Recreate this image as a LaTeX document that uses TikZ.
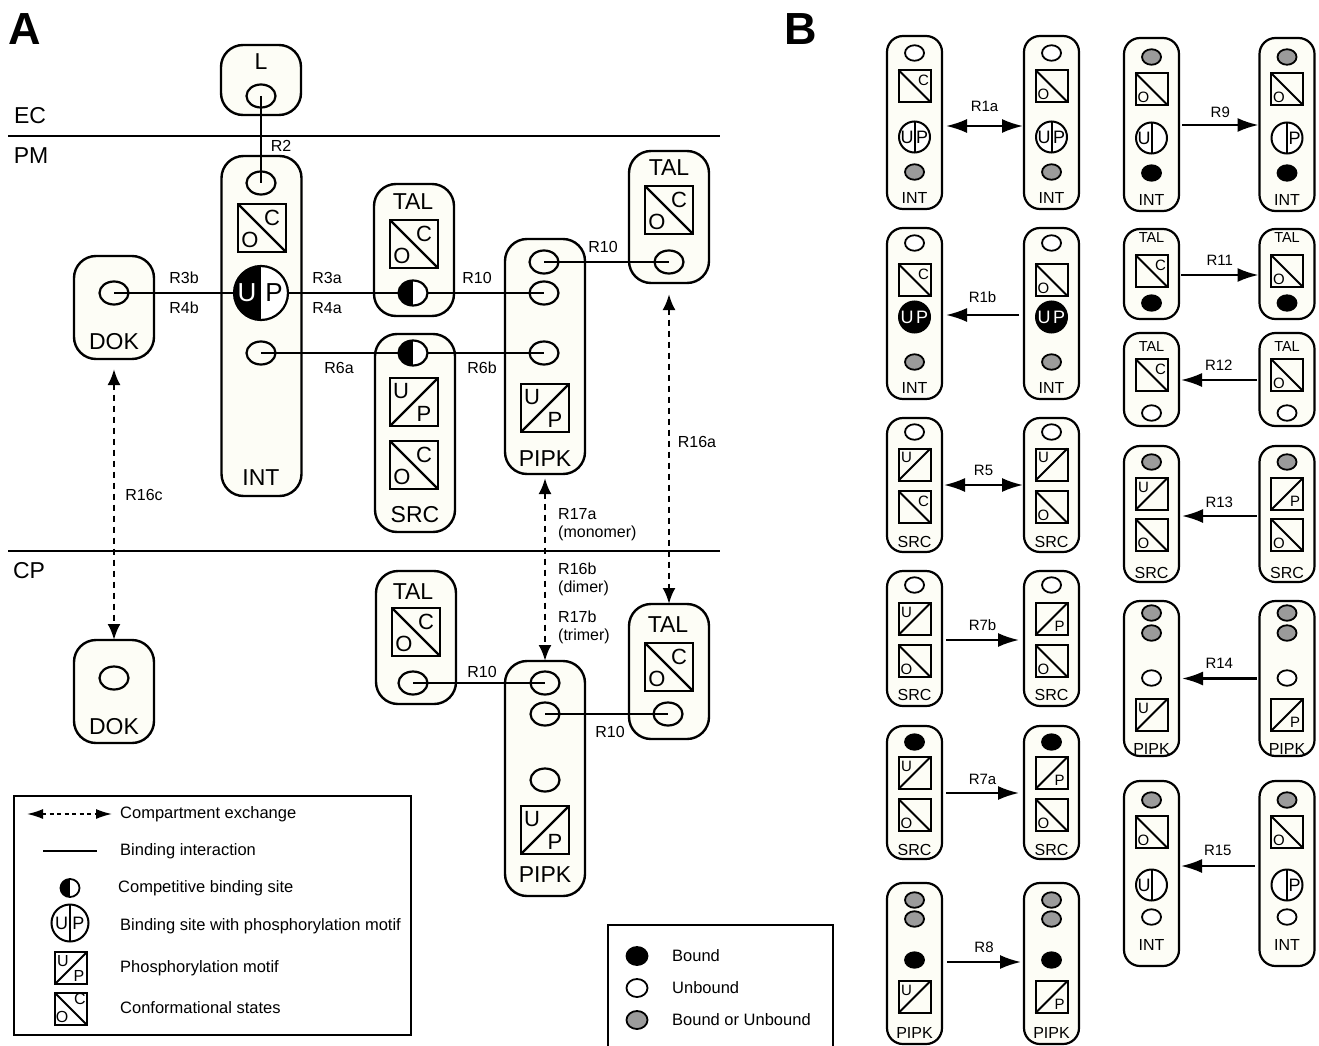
\documentclass[tikz,border=0pt]{standalone}
\usepackage{fontspec}
\setmainfont{Liberation Sans}
\usetikzlibrary{shapes.geometric, arrows.meta, calc}
\definecolor{boxfill}{RGB}{253,253,246}
\definecolor{midgray}{RGB}{155,155,155}
\newcommand{\fs}[1]{\fontsize{#1}{#1}\selectfont}
\tikzset{
 mol/.style={draw, line width=2.4pt, rounded corners=22pt, fill=boxfill, minimum width=80pt, inner sep=0, outer sep=0},
 bmol/.style={draw, line width=2.2pt, rounded corners=16pt, fill=boxfill, minimum width=55pt, inner sep=0, outer sep=0},
 site/.style={draw, ellipse, line width=2.2pt, minimum width=29pt, minimum height=23pt, inner sep=0, outer sep=0},
 comp/.style={draw, ellipse, line width=2.2pt, fill=white, inner sep=0, outer sep=0, minimum width=29pt, minimum height=25pt,
   path picture={\fill[black] (path picture bounding box.south west) rectangle (path picture bounding box.north);}},
 upA/.style={draw, circle, line width=2.2pt, minimum size=54pt, fill=white, inner sep=0, outer sep=0,
   path picture={\fill[black] (path picture bounding box.south west) rectangle (path picture bounding box.north);}},
 bsite/.style={draw, ellipse, line width=1.8pt, minimum width=19pt, minimum height=15.5pt, inner sep=0},
 unb/.style={bsite, fill=white},
 bnd/.style={bsite, fill=black},
 eith/.style={bsite, fill=midgray},
 sqA/.style={draw, rectangle, line width=2.2pt, minimum size=48pt, inner sep=0, outer sep=0},
 sqB/.style={draw, rectangle, line width=2pt, minimum size=32pt, inner sep=0, outer sep=0},
 diagA/.style={line width=2.2pt},
 diagB/.style={line width=2pt},
 cB/.style={draw, circle, line width=2pt, minimum size=31pt, fill=white, inner sep=0,
   path picture={\draw[line width=2pt] (path picture bounding box.north) -- (path picture bounding box.south);}},
 cBk/.style={draw, circle, line width=2pt, minimum size=31pt, fill=black, inner sep=0},
 letA/.style={font=\fs{22}, inner sep=0},
 letB/.style={font=\fs{15}, inner sep=0},
 letC/.style={font=\fs{18}, inner sep=0},
 pname/.style={font=\fs{23}, inner sep=0},
 bname/.style={font=\fs{16}, inner sep=0},
 rlbl/.style={font=\fs{16}, inner sep=0},
 blbl/.style={font=\fs{15}, inner sep=0},
 lgt/.style={font=\fs{16.5}, inner sep=0, anchor=west},
 bind/.style={line width=2.2pt},
 memb/.style={line width=2.4pt},
 xch/.style={line width=2.6pt, dash pattern=on 6pt off 5pt, {Latex[length=16pt,width=13pt]}-{Latex[length=16pt,width=13pt]}},
 xchs/.style={line width=1.6pt, dash pattern=on 4pt off 3.5pt, {Latex[length=16pt,width=10pt]}-{Latex[length=16pt,width=10pt]}},
 rarr/.style={line width=2.2pt, -{Latex[length=21pt,width=14pt]}},
 darr/.style={line width=2.2pt, {Latex[length=21pt,width=14pt]}-{Latex[length=21pt,width=14pt]}},
}
% A-size squares
\newcommand{\myCoA}[3]{\node[sqA] (#1) at (#2,#3) {};
 \draw[diagA] (#1.north west) -- (#1.south east);
 \node[letA] (#1C) at ([shift={(10,-10)}]#1.center) {C};
 \node[letA] (#1O) at ([shift={(-12,12)}]#1.center) {O};}
\newcommand{\myUpA}[3]{\node[sqA] (#1) at (#2,#3) {};
 \draw[diagA] (#1.south west) -- (#1.north east);
 \node[letA] (#1U) at ([shift={(-13,-11)}]#1.center) {U};
 \node[letA] (#1P) at ([shift={(10,12)}]#1.center) {P};}
% B-size squares
\newcommand{\mySqC}[3]{\node[sqB] (#1) at (#2,#3) {};
 \draw[diagB] (#1.north west) -- (#1.south east);
 \node[letB] (#1L) at ([shift={(9,-6)}]#1.center) {C};}
\newcommand{\mySqO}[3]{\node[sqB] (#1) at (#2,#3) {};
 \draw[diagB] (#1.north west) -- (#1.south east);
 \node[letB] (#1L) at ([shift={(-8,8)}]#1.center) {O};}
\newcommand{\mySqU}[3]{\node[sqB] (#1) at (#2,#3) {};
 \draw[diagB] (#1.south west) -- (#1.north east);
 \node[letB] (#1L) at ([shift={(-8,-7)}]#1.center) {U};}
\newcommand{\mySqP}[3]{\node[sqB] (#1) at (#2,#3) {};
 \draw[diagB] (#1.south west) -- (#1.north east);
 \node[letB] (#1L) at ([shift={(8,7)}]#1.center) {P};}
% B-size circle: name x y left right
\newcommand{\myCirc}[5]{\node[cB] (#1) at (#2,#3) {};
 \node[letC] (#1U) at ([shift={(-7.5,0)}]#1.center) {#4};
 \node[letC] (#1P) at ([shift={(7.5,0)}]#1.center) {#5};}
\newcommand{\myCircK}[3]{\node[cBk] (#1) at (#2,#3) {};
 \node[letC, text=white] (#1U) at ([shift={(-7.5,0)}]#1.center) {U};
 \node[letC, text=white] (#1P) at ([shift={(7.5,0)}]#1.center) {P};}

\begin{document}
\begin{tikzpicture}[x=1pt,y=-1pt]
\useasboundingbox (0,0) rectangle (1319,1046);

% panel letters
\node[font=\fs{45}\bfseries, inner sep=0] (labA) at (25,29) {A};
\node[font=\fs{45}\bfseries, inner sep=0] (labB) at (801,29) {B};

% membranes
\coordinate (ec0) at (8,136); \coordinate (ec1) at (720,136);
\draw[memb] (ec0) -- (ec1);
\coordinate (cp0) at (8,551); \coordinate (cp1) at (720,551);
\draw[memb] (cp0) -- (cp1);
\node[pname] (tEC) at (30,116) {EC};
\node[pname] (tPM) at (31,156) {PM};
\node[pname] (tCP) at (29,571) {CP};

% L
\node[mol, minimum height=70pt] (L) at (261,80) {};
\node[pname] (Lt) at (261,62) {L};
\node[site] (Ls) at (261,96) {};

% INT
\node[mol, minimum height=340pt] (INT) at (261.5,326) {};
\node[site] (INTs1) at (261,183) {};
\myCoA{INTco}{262}{228}
\node[upA] (INTup) at (261,293) {};
\node[letA, font=\fs{26}, text=white] (INTu) at (247,293) {U};
\node[letA, font=\fs{26}] (INTp) at (274,293) {P};
\node[site] (INTs2) at (261,353) {};
\node[pname] (INTt) at (261,478) {INT};

% DOK
\node[mol, minimum height=103pt] (DOK1) at (114,307.5) {};
\node[site] (DOK1s) at (114,293) {};
\node[pname] (DOK1t) at (114,342) {DOK};
\node[mol, minimum height=103pt] (DOK2) at (114,691.5) {};
\node[site] (DOK2s) at (114,678) {};
\node[pname] (DOK2t) at (114,727) {DOK};

% TAL1
\node[mol, minimum height=132pt] (TAL1) at (414,250) {};
\node[pname] (TAL1t) at (413,202) {TAL};
\myCoA{TAL1co}{414}{244}
\node[comp] (TAL1c) at (413,293) {};

% SRC
\node[mol, minimum height=198pt] (SRC) at (415,433) {};
\node[comp] (SRCc) at (413,353) {};
\myUpA{SRCup}{414}{402}
\myCoA{SRCco}{414}{465}
\node[pname] (SRCt) at (415,515) {SRC};

% PIPK1
\node[mol, minimum height=235pt] (PIPK1) at (545,356.5) {};
\node[site] (P1s1) at (544,262) {};
\node[site] (P1s2) at (544,293) {};
\node[site] (P1s3) at (544,353) {};
\myUpA{P1up}{545}{408}
\node[pname] (P1t) at (545,459) {PIPK};

% TAL2
\node[mol, minimum height=132pt] (TAL2) at (669,217) {};
\node[pname] (TAL2t) at (669,168) {TAL};
\myCoA{TAL2co}{669}{210}
\node[site] (TAL2s) at (669,262) {};

% TAL3
\node[mol, minimum height=133pt] (TAL3) at (416,637.5) {};
\node[pname] (TAL3t) at (413,592) {TAL};
\myCoA{TAL3co}{416}{632}
\node[site] (TAL3s) at (413,683) {};

% PIPK2
\node[mol, minimum height=235pt] (PIPK2) at (545,778.5) {};
\node[site] (P2s1) at (545,683) {};
\node[site] (P2s2) at (545,714) {};
\node[site] (P2s3) at (545,780) {};
\myUpA{P2up}{545}{830}
\node[pname] (P2t) at (545,875) {PIPK};

% TAL4
\node[mol, minimum height=135pt] (TAL4) at (669,671.5) {};
\node[pname] (TAL4t) at (668,625) {TAL};
\myCoA{TAL4co}{669}{667}
\node[site] (TAL4s) at (668,714) {};

% binding lines
\draw[bind] (Ls.center) -- (INTs1.center);
\draw[bind] (DOK1s.center) -- (INTup);
\draw[bind] (INTup) -- (TAL1c);
\draw[bind] (TAL1c) -- (P1s2.center);
\draw[bind] (INTs2.center) -- (SRCc);
\draw[bind] (SRCc) -- (P1s3.center);
\draw[bind] (P1s1.center) -- (TAL2s.center);
\draw[bind] (TAL3s.center) -- (P2s1.center);
\draw[bind] (P2s2.center) -- (TAL4s.center);

% exchange arrows
\draw[xch, shorten <=10pt] (DOK1.south) -- (DOK2.north);
\draw[xch, shorten <=11pt] (TAL2.south) -- (TAL4.north);
\draw[xch, shorten <=4pt] (PIPK1.south) -- (PIPK2.north);

% A labels
\node[rlbl] (lR2) at (281,146) {R2};
\node[rlbl] (lR3b) at (184,278) {R3b};
\node[rlbl] (lR4b) at (184,308) {R4b};
\node[rlbl] (lR3a) at (327,278) {R3a};
\node[rlbl] (lR4a) at (327,308) {R4a};
\node[rlbl] (lR10a) at (477,278) {R10};
\node[rlbl] (lR6a) at (339,368) {R6a};
\node[rlbl] (lR6b) at (482,368) {R6b};
\node[rlbl] (lR10b) at (603,247) {R10};
\node[rlbl] (lR16a) at (697,442) {R16a};
\node[rlbl] (lR16c) at (144,495) {R16c};
\node[rlbl, anchor=west] (lR17a) at (558,514) {R17a};
\node[rlbl, anchor=west] (lmono) at (558,533) {(monomer)};
\node[rlbl, anchor=west] (lR16b) at (558,569) {R16b};
\node[rlbl, anchor=west] (ldim) at (558,588) {(dimer)};
\node[rlbl, anchor=west] (lR17b) at (558,617) {R17b};
\node[rlbl, anchor=west] (ltri) at (558,636) {(trimer)};
\node[rlbl] (lR10c) at (482,672) {R10};
\node[rlbl] (lR10d) at (610,732) {R10};

% legend A
\node[draw, line width=2.2pt, minimum width=397pt, minimum height=239pt, inner sep=0] (legA) at (212.5,915.5) {};
\coordinate (lgx0) at (27,814); \coordinate (lgx1) at (112,814);
\draw[xchs] (lgx0) -- (lgx1);
\node[lgt] (lg1) at (120,814) {Compartment exchange};
\coordinate (lgb0) at (43,851); \coordinate (lgb1) at (97,851);
\draw[line width=1.8pt] (lgb0) -- (lgb1);
\node[lgt] (lg2) at (120,851) {Binding interaction};
\node[comp, minimum width=19pt, minimum height=18pt, line width=1.8pt] (lgc) at (70,888) {};
\node[lgt] (lg3) at (118,888) {Competitive binding site};
\node[cB, minimum size=37pt] (lgup) at (70,923) {};
\node[letC] (lgupU) at (61.5,923) {U};
\node[letC] (lgupP) at (78.5,923) {P};
\node[lgt] (lg4) at (120,926) {Binding site with phosphorylation motif};
\node[sqB] (lgsq1) at (71,968) {};
\draw[diagB] (lgsq1.south west) -- (lgsq1.north east);
\node[font=\fs{16}, inner sep=0] (lgsq1U) at (63,961) {U};
\node[font=\fs{16}, inner sep=0] (lgsq1P) at (79,976) {P};
\node[lgt] (lg5) at (120,968) {Phosphorylation motif};
\node[sqB] (lgsq2) at (71,1009) {};
\draw[diagB] (lgsq2.north west) -- (lgsq2.south east);
\node[font=\fs{16}, inner sep=0] (lgsq2C) at (80,999) {C};
\node[font=\fs{16}, inner sep=0] (lgsq2O) at (62,1017) {O};
\node[lgt] (lg6) at (120,1008) {Conformational states};

% legend B
\coordinate (lb0) at (608,1048); \coordinate (lb1) at (608,925);
\coordinate (lb2) at (833,925); \coordinate (lb3) at (833,1048);
\draw[line width=2.2pt] (lb0) -- (lb1) -- (lb2) -- (lb3);
\node[bnd, minimum width=21pt, minimum height=18pt] (lgk) at (637,956) {};
\node[lgt] (lgkt) at (672,956) {Bound};
\node[unb, minimum width=21pt, minimum height=18pt] (lgw) at (637,988) {};
\node[lgt] (lgwt) at (672,988) {Unbound};
\node[eith, minimum width=21pt, minimum height=18pt] (lgg) at (637,1020) {};
\node[lgt] (lggt) at (672,1020) {Bound or Unbound};

% ===== Panel B, left column =====
% Row 1 INT R1a
\node[bmol, minimum height=173pt] (b1L) at (914.5,122.5) {};
\node[unb] (b1Ls1) at (914.5,53) {};
\mySqC{b1Lsq}{914.5}{86}
\myCirc{b1Lc}{914.5}{137}{U}{P}
\node[eith] (b1Ls2) at (914.5,172) {};
\node[bname] (b1Lt) at (914.5,198) {INT};
\node[bmol, minimum height=173pt] (b1R) at (1051.5,122.5) {};
\node[unb] (b1Rs1) at (1051.5,53) {};
\mySqO{b1Rsq}{1051.5}{86}
\myCirc{b1Rc}{1051.5}{137}{U}{P}
\node[eith] (b1Rs2) at (1051.5,172) {};
\node[bname] (b1Rt) at (1051.5,198) {INT};
\draw[darr] ([shift={(4,3.5)}]b1L.east) -- ([shift={(-1,3.5)}]b1R.west) node[blbl, midway, yshift=20pt] (lR1a) {R1a};

% Row 2 INT R1b
\node[bmol, minimum height=171pt] (b2L) at (914.5,313.5) {};
\node[unb] (b2Ls1) at (914.5,243) {};
\mySqC{b2Lsq}{914.5}{280}
\myCircK{b2Lc}{914.5}{317}
\node[eith] (b2Ls2) at (914.5,362) {};
\node[bname] (b2Lt) at (914.5,388) {INT};
\node[bmol, minimum height=171pt] (b2R) at (1051.5,313.5) {};
\node[unb] (b2Rs1) at (1051.5,243) {};
\mySqO{b2Rsq}{1051.5}{280}
\myCircK{b2Rc}{1051.5}{317}
\node[eith] (b2Rs2) at (1051.5,362) {};
\node[bname] (b2Rt) at (1051.5,388) {INT};
\draw[rarr] ([shift={(-5,1.5)}]b2R.west) -- ([shift={(4,1.5)}]b2L.east) node[blbl, midway, yshift=18pt] (lR1b) {R1b};

% Row 3 SRC R5
\node[bmol, minimum height=134pt] (b3L) at (914.5,485) {};
\node[unb] (b3Ls1) at (914.5,432) {};
\mySqU{b3Lq1}{914.5}{464.5}
\mySqC{b3Lq2}{914.5}{507}
\node[bname] (b3Lt) at (914.5,542) {SRC};
\node[bmol, minimum height=134pt] (b3R) at (1051.5,485) {};
\node[unb] (b3Rs1) at (1051.5,432) {};
\mySqU{b3Rq1}{1051.5}{464.5}
\mySqO{b3Rq2}{1051.5}{507}
\node[bname] (b3Rt) at (1051.5,542) {SRC};
\draw[darr] ([shift={(2,0)}]b3L.east) -- ([shift={(-1,0)}]b3R.west) node[blbl, midway, yshift=15pt] (lR5) {R5};

% Row 4 SRC R7b
\node[bmol, minimum height=135pt] (b4L) at (914.5,638.5) {};
\node[unb] (b4Ls1) at (914.5,585) {};
\mySqU{b4Lq1}{914.5}{619}
\mySqO{b4Lq2}{914.5}{661}
\node[bname] (b4Lt) at (914.5,695) {SRC};
\node[bmol, minimum height=135pt] (b4R) at (1051.5,638.5) {};
\node[unb] (b4Rs1) at (1051.5,585) {};
\mySqP{b4Rq1}{1051.5}{619}
\mySqO{b4Rq2}{1051.5}{661}
\node[bname] (b4Rt) at (1051.5,695) {SRC};
\draw[rarr] ([shift={(4,1.5)}]b4L.east) -- ([shift={(-5,1.5)}]b4R.west) node[blbl, midway, yshift=15pt] (lR7b) {R7b};

% Row 5 SRC R7a
\node[bmol, minimum height=133pt] (b5L) at (914.5,792.5) {};
\node[bnd] (b5Ls1) at (914.5,742) {};
\mySqU{b5Lq1}{914.5}{773}
\mySqO{b5Lq2}{914.5}{815}
\node[bname] (b5Lt) at (914.5,850) {SRC};
\node[bmol, minimum height=133pt] (b5R) at (1051.5,792.5) {};
\node[bnd] (b5Rs1) at (1051.5,742) {};
\mySqP{b5Rq1}{1051.5}{773}
\mySqO{b5Rq2}{1051.5}{815}
\node[bname] (b5Rt) at (1051.5,850) {SRC};
\draw[rarr] ([shift={(4,0.5)}]b5L.east) -- ([shift={(-5,0.5)}]b5R.west) node[blbl, midway, yshift=14pt] (lR7a) {R7a};

% Row 6 PIPK R8
\node[bmol, minimum height=161pt] (b6L) at (914.5,963.5) {};
\node[eith] (b6Ls1) at (914.5,900) {};
\node[eith] (b6Ls2) at (914.5,919) {};
\node[bnd] (b6Ls3) at (914.5,960) {};
\mySqU{b6Lq}{914.5}{997}
\node[bname] (b6Lt) at (914.5,1033) {PIPK};
\node[bmol, minimum height=161pt] (b6R) at (1051.5,963.5) {};
\node[eith] (b6Rs1) at (1051.5,900) {};
\node[eith] (b6Rs2) at (1051.5,919) {};
\node[bnd] (b6Rs3) at (1051.5,960) {};
\mySqP{b6Rq}{1051.5}{997}
\node[bname] (b6Rt) at (1051.5,1033) {PIPK};
\draw[rarr] ([shift={(5,-1.5)}]b6L.east) -- ([shift={(-3,-1.5)}]b6R.west) node[blbl, midway, yshift=15pt] (lR8) {R8};

% ===== Panel B, right column =====
% Row 1 INT R9
\node[bmol, minimum height=173pt] (c1L) at (1151.5,124.5) {};
\node[eith] (c1Ls1) at (1151.5,57) {};
\mySqO{c1Lsq}{1151.5}{89}
\myCirc{c1Lc}{1151.5}{138}{U}{}
\node[bnd] (c1Ls2) at (1151.5,173) {};
\node[bname] (c1Lt) at (1151.5,200) {INT};
\node[bmol, minimum height=173pt] (c1R) at (1287,124.5) {};
\node[eith] (c1Rs1) at (1287,57) {};
\mySqO{c1Rsq}{1287}{89}
\myCirc{c1Rc}{1287}{138}{}{P}
\node[bnd] (c1Rs2) at (1287,173) {};
\node[bname] (c1Rt) at (1287,200) {INT};
\draw[rarr] ([shift={(3,0.5)}]c1L.east) -- ([shift={(-1,0.5)}]c1R.west) node[blbl, midway, yshift=13pt] (lR9) {R9};

% Row 2 TAL R11
\node[bmol, minimum height=90pt] (c2L) at (1151.5,274) {};
\node[bname, font=\fs{14.5}] (c2Lt) at (1151.5,238) {TAL};
\mySqC{c2Lsq}{1151.5}{271}
\node[bnd] (c2Ls) at (1151.5,303) {};
\node[bmol, minimum height=90pt] (c2R) at (1287,274) {};
\node[bname, font=\fs{14.5}] (c2Rt) at (1287,238) {TAL};
\mySqO{c2Rsq}{1287}{271}
\node[bnd] (c2Rs) at (1287,303) {};
\draw[rarr] ([shift={(2,1)}]c2L.east) -- ([shift={(-1,1)}]c2R.west) node[blbl, midway, yshift=15pt] (lR11) {R11};

% Row 3 TAL R12
\node[bmol, minimum height=93pt] (c3L) at (1151.5,379.5) {};
\node[bname, font=\fs{14.5}] (c3Lt) at (1151.5,347) {TAL};
\mySqC{c3Lsq}{1151.5}{375}
\node[unb] (c3Ls) at (1151.5,413) {};
\node[bmol, minimum height=93pt] (c3R) at (1287,379.5) {};
\node[bname, font=\fs{14.5}] (c3Rt) at (1287,347) {TAL};
\mySqO{c3Rsq}{1287}{375}
\node[unb] (c3Rs) at (1287,413) {};
\draw[rarr] ([shift={(-3,0.5)}]c3R.west) -- ([shift={(2,0.5)}]c3L.east) node[blbl, midway, yshift=15pt] (lR12) {R12};

% Row 4 SRC R13
\node[bmol, minimum height=136pt] (c4L) at (1151.5,514) {};
\node[eith] (c4Ls) at (1151.5,462) {};
\mySqU{c4Lq1}{1151.5}{494}
\mySqO{c4Lq2}{1151.5}{535}
\node[bname] (c4Lt) at (1151.5,573) {SRC};
\node[bmol, minimum height=136pt] (c4R) at (1287,514) {};
\node[eith] (c4Rs) at (1287,462) {};
\mySqP{c4Rq1}{1287}{494}
\mySqO{c4Rq2}{1287}{535}
\node[bname] (c4Rt) at (1287,573) {SRC};
\draw[rarr] ([shift={(-3,2)}]c4R.west) -- ([shift={(3,2)}]c4L.east) node[blbl, midway, yshift=14pt] (lR13) {R13};

% Row 5 PIPK R14
\node[bmol, minimum height=155pt] (c5L) at (1151.5,678.5) {};
\node[eith] (c5Ls1) at (1151.5,613) {};
\node[eith] (c5Ls2) at (1151.5,633) {};
\node[unb] (c5Ls3) at (1151.5,678) {};
\mySqU{c5Lq}{1151.5}{715}
\node[bname] (c5Lt) at (1151.5,749) {PIPK};
\node[bmol, minimum height=155pt] (c5R) at (1287,678.5) {};
\node[eith] (c5Rs1) at (1287,613) {};
\node[eith] (c5Rs2) at (1287,633) {};
\node[unb] (c5Rs3) at (1287,678) {};
\mySqP{c5Rq}{1287}{715}
\node[bname] (c5Rt) at (1287,749) {PIPK};
\draw[rarr] ([shift={(-3,0)}]c5R.west) -- ([shift={(3,0)}]c5L.east) node[blbl, midway, yshift=15pt] (lR14) {R14};

% Row 6 INT R15
\node[bmol, minimum height=185pt] (c6L) at (1151.5,873.5) {};
\node[eith] (c6Ls1) at (1151.5,800) {};
\mySqO{c6Lsq}{1151.5}{832}
\myCirc{c6Lc}{1151.5}{885}{U}{}
\node[unb] (c6Ls2) at (1151.5,917) {};
\node[bname] (c6Lt) at (1151.5,945) {INT};
\node[bmol, minimum height=185pt] (c6R) at (1287,873.5) {};
\node[eith] (c6Rs1) at (1287,800) {};
\mySqO{c6Rsq}{1287}{832}
\myCirc{c6Rc}{1287}{885}{}{P}
\node[unb] (c6Rs2) at (1287,917) {};
\node[bname] (c6Rt) at (1287,945) {INT};
\draw[rarr] ([shift={(-5,-7.5)}]c6R.west) -- ([shift={(2,-7.5)}]c6L.east) node[blbl, midway, yshift=16pt] (lR15) {R15};

\end{tikzpicture}
\end{document}
